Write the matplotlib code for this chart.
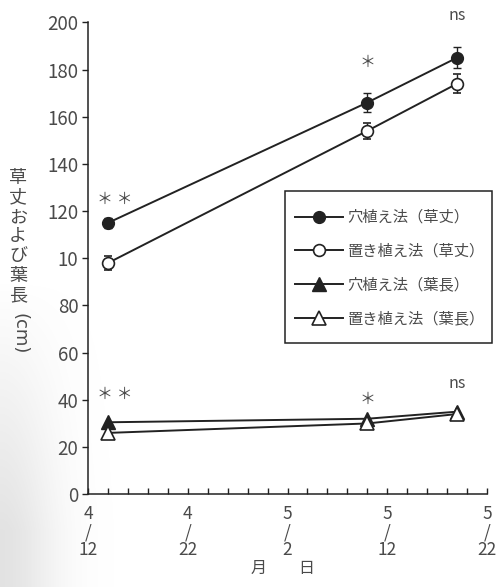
import numpy as np
import matplotlib
matplotlib.use('Agg')
import matplotlib.pyplot as plt
from matplotlib.patches import Rectangle
from matplotlib.ticker import MultipleLocator

plt.rcParams['font.family'] = ['Noto Sans CJK JP', 'DejaVu Sans']

# days counted from 4/12
days = [2, 28, 37]
tick_days = [0, 10, 20, 30, 40]
tick_labels = ['4\n/\n12', '4\n/\n22', '5\n/\n2', '5\n/\n12', '5\n/\n22']
y_ticks = [0, 20, 40, 60, 80, 100, 120, 140, 160, 180, 200]
y_labels = ['0', '20', '40', '60', '80', '10', '120', '140', '160', '180', '200']

# plant height (草丈) and leaf length (葉長), cm
ana_height = [115, 166, 185]
ana_height_err = [2, 4, 4.5]
oki_height = [98, 154, 174]
oki_height_err = [3, 3.5, 4]
ana_leaf = [30.5, 32, 35]
oki_leaf = [26, 30, 34]

sig_height = ['＊ ＊', '＊', 'ns']
sig_leaf = ['＊ ＊', '＊', 'ns']

names = ['穴植え法（草丈）', '置き植え法（草丈）', '穴植え法（葉長）', '置き植え法（葉長）']

ink = '#222222'
txt = '#4a4a4a'

fig = plt.figure(figsize=(5, 5.87), dpi=100)

# greyish scan shading along the lower left edge
h, w = 587, 500
yy, xx = np.mgrid[0:h, 0:w]
shade = np.exp(-((xx / 55.0) ** 2)) * np.clip((yy - 280) / 250.0, 0, 1)
img = np.ones((h, w, 4))
img[..., :3] = 0.6
img[..., 3] = 0.28 * shade
fig.figimage(img, 0, 0, zorder=0, origin='upper')

ax = fig.add_axes([0.176, 0.158, 0.798, 0.804])
ax.patch.set_alpha(0)

lw = 1.4
c1 = ax.errorbar(days, ana_height, yerr=ana_height_err, color=ink, lw=lw, marker='o',
                 ms=8.5, mfc=ink, mec=ink, capsize=3, elinewidth=1)
c2 = ax.errorbar(days, oki_height, yerr=oki_height_err, color=ink, lw=lw, marker='o',
                 ms=8.5, mfc='white', mec=ink, mew=1.2, capsize=3, elinewidth=1)
l3, = ax.plot(days, ana_leaf, color=ink, lw=lw, marker='^', ms=9.5, mfc=ink, mec=ink)
l4, = ax.plot(days, oki_leaf, color=ink, lw=lw, marker='^', ms=9.5, mfc='white',
              mec=ink, mew=1.2)

# significance marks
offs_h = [10, 17, 18]
offs_l = [12, 8, 12]
for d, v, s, o in zip(days, ana_height, sig_height, offs_h):
    ax.text(d + (0.7 if s.startswith('＊ ') else 0), v + o, s, ha='center', va='center',
            fontsize=11.5, color=txt, clip_on=False)
for d, v, s, o in zip(days, ana_leaf, sig_leaf, offs_l):
    ax.text(d + (0.7 if s.startswith('＊ ') else 0), v + o, s, ha='center', va='center',
            fontsize=11.5, color=txt, clip_on=False)

ax.set_xlim(0, 40)
ax.set_ylim(0, 200)
ax.set_xticks(tick_days)
ax.set_xticklabels(tick_labels, linespacing=1.0)
ax.xaxis.set_minor_locator(MultipleLocator(2))
ax.set_yticks(y_ticks)
ax.set_yticklabels(y_labels)

for side in ['top', 'right']:
    ax.spines[side].set_visible(False)
for side in ['left', 'bottom']:
    ax.spines[side].set_color(ink)
    ax.spines[side].set_linewidth(1.1)

ax.tick_params(axis='x', which='both', direction='in', length=4, width=1,
               color=ink, labelsize=12.5, labelcolor=txt, pad=8)
ax.tick_params(axis='y', direction='out', length=4, width=1, color=ink,
               labelsize=13.5, labelcolor=txt, pad=3)

# vertical y label
ylab = '草丈および葉長'
for i, ch in enumerate(ylab):
    fig.text(18 / w, 1 - (178 + i * 19.5) / h, ch, ha='center', va='center',
             fontsize=13, color=txt)
fig.text(19 / w, 1 - 334 / h, '(cm)', ha='center', va='center', rotation=-90,
         fontsize=13, color=txt, family='DejaVu Sans')

fig.text(283 / w, 1 - 568 / h, '月　　日', ha='center', va='center',
         fontsize=11.5, color=txt)

# legend frame drawn separately so its padding can differ per side
ax.add_patch(Rectangle((285 / w, 1 - 343 / h), 207 / w, 152 / h,
                       transform=fig.transFigure, facecolor='white', edgecolor=ink,
                       lw=1.1, zorder=4, clip_on=False))
leg = ax.legend([c1[0], c2[0], l3, l4], names, loc='upper left',
                bbox_to_anchor=(295 / w, 1 - 209 / h),
                bbox_transform=fig.transFigure, borderaxespad=0, borderpad=0,
                fontsize=11, frameon=False, handlelength=3.15,
                handletextpad=0.3, labelspacing=1.1)
for t in leg.get_texts():
    t.set_color(txt)

fig.savefig('out.png', dpi=100)
